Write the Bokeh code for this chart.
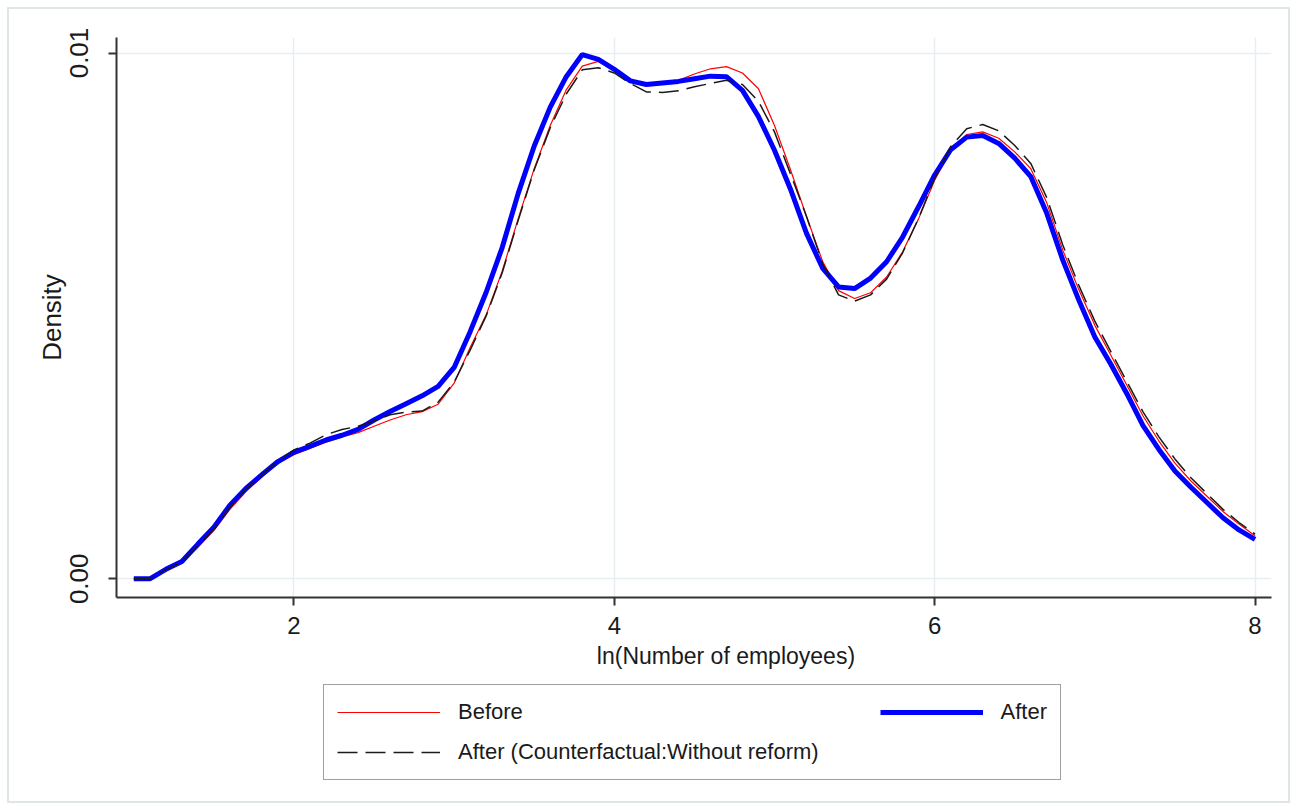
from bokeh.plotting import figure
from bokeh.layouts import column
from bokeh.models import (Range1d, FixedTicker, NumeralTickFormatter, Legend,
                          LegendItem)
from bokeh.embed import file_html
from bokeh.resources import INLINE

# Kernel density estimates of ln(employees), evaluated on a 0.1 grid.
log_employees = [round(1.0 + 0.1 * i, 1) for i in range(71)]

# densities in thousandths
before_milli = [
    0.00, 0.00, 0.15, 0.30, 0.60, 0.92, 1.32, 1.66, 1.94, 2.20,
    2.36, 2.48, 2.60, 2.70, 2.78, 2.90, 3.02, 3.12, 3.18, 3.32,
    3.72, 4.40, 5.02, 5.85, 6.85, 7.80, 8.62, 9.30, 9.75, 9.84,
    9.70, 9.48, 9.40, 9.43, 9.48, 9.60, 9.70, 9.74, 9.62, 9.32,
    8.62, 7.78, 6.89, 6.04, 5.48, 5.33, 5.44, 5.74, 6.22, 6.85,
    7.58, 8.15, 8.45, 8.50, 8.38, 8.12, 7.80, 7.15, 6.25, 5.50,
    4.82, 4.25, 3.68, 3.10, 2.62, 2.20, 1.86, 1.57, 1.28, 1.04,
    0.82,
]
after_milli = [
    0.00, 0.00, 0.18, 0.33, 0.66, 0.98, 1.40, 1.72, 1.98, 2.23,
    2.41, 2.52, 2.64, 2.73, 2.84, 3.02, 3.18, 3.33, 3.48, 3.66,
    4.02, 4.70, 5.45, 6.30, 7.33, 8.23, 8.97, 9.55, 9.97, 9.88,
    9.69, 9.47, 9.40, 9.43, 9.46, 9.51, 9.56, 9.55, 9.29, 8.79,
    8.15, 7.41, 6.57, 5.91, 5.55, 5.52, 5.72, 6.03, 6.50, 7.08,
    7.68, 8.16, 8.40, 8.43, 8.28, 8.00, 7.65, 6.95, 6.06, 5.30,
    4.60, 4.08, 3.52, 2.92, 2.46, 2.05, 1.74, 1.45, 1.16, 0.93,
    0.75,
]
counterfactual_milli = [
    0.00, 0.00, 0.17, 0.32, 0.63, 0.95, 1.37, 1.70, 1.98, 2.24,
    2.45, 2.58, 2.74, 2.84, 2.90, 3.00, 3.12, 3.17, 3.19, 3.36,
    3.74, 4.35, 5.00, 5.82, 6.82, 7.78, 8.58, 9.22, 9.68, 9.72,
    9.62, 9.42, 9.26, 9.25, 9.28, 9.36, 9.42, 9.48, 9.40, 9.08,
    8.50, 7.70, 6.89, 6.00, 5.40, 5.28, 5.40, 5.70, 6.20, 6.86,
    7.62, 8.22, 8.56, 8.64, 8.52, 8.24, 7.90, 7.25, 6.35, 5.58,
    4.90, 4.32, 3.75, 3.18, 2.70, 2.28, 1.92, 1.62, 1.32, 1.07,
    0.85,
]

x_ticks = [2, 4, 6, 8]
y_ticks = [0.0, 0.01]

series_labels = ["Before", "After", "After (Counterfactual:Without reform)"]

before = [v / 1000 for v in before_milli]
after = [v / 1000 for v in after_milli]
counterfactual = [v / 1000 for v in counterfactual_milli]

FONT = "Liberation Sans"
TEXT = "#1a1a1a"
NBSP = "\u00a0"

STYLE_BEFORE = dict(line_color="#ff0000", line_width=1.2)
STYLE_AFTER = dict(line_color="#0000ff", line_width=5)
STYLE_CF = dict(line_color="#1a1a1a", line_width=1.5, line_dash="20 8")

# ---- density plot ----
p = figure(
    frame_width=1155, frame_height=560,
    min_border_left=107, min_border_right=17,
    min_border_top=28, min_border_bottom=85,
    x_range=Range1d(0.892, 8.103), y_range=Range1d(-0.000356, 0.010295),
    output_backend="svg", toolbar_location=None,
    background_fill_color="white", border_fill_color="white",
)
p.outline_line_color = None

p.line(log_employees, before, **STYLE_BEFORE)
p.line(log_employees, after, **STYLE_AFTER)
p.line(log_employees, counterfactual, **STYLE_CF)

p.xaxis.ticker = FixedTicker(ticks=x_ticks)
p.yaxis.ticker = FixedTicker(ticks=y_ticks)
p.yaxis.formatter = NumeralTickFormatter(format="0.00")
p.yaxis.major_label_orientation = "vertical"
p.xaxis.axis_label = NBSP * 10 + "ln(Number of employees)"
p.yaxis.axis_label = "Density"

for ax in (p.xaxis, p.yaxis):
    ax.axis_line_color = "#333333"
    ax.axis_line_width = 2
    ax.major_tick_line_color = "#333333"
    ax.major_tick_line_width = 2
    ax.major_tick_in = 0
    ax.major_tick_out = 8
    ax.minor_tick_line_color = None
    ax.major_label_text_font = FONT
    ax.major_label_text_color = TEXT
    ax.axis_label_text_font = FONT
    ax.axis_label_text_color = TEXT
    ax.axis_label_text_font_style = "normal"

p.xaxis.major_label_text_font_size = "24px"
p.xaxis.axis_label_text_font_size = "23px"
p.xaxis.major_label_standoff = 11
p.xaxis.axis_label_standoff = 6
p.yaxis.major_label_text_font_size = "26px"
p.yaxis.axis_label_text_font_size = "26px"
p.yaxis.major_label_standoff = 20
p.yaxis.axis_label_standoff = 1

p.xgrid.grid_line_color = "#e6eef1"
p.ygrid.grid_line_color = "#e6eef1"
p.xgrid.grid_line_width = 1.5
p.ygrid.grid_line_width = 1.5

# ---- legend strip under the plot ----
# The key's ranges sit away from the data, so its lines only feed the legend swatches.
key = figure(
    width=1279, height=119, min_border=0,
    x_range=Range1d(20, 21), y_range=Range1d(20, 21),
    x_axis_type=None, y_axis_type=None,
    output_backend="svg", toolbar_location=None,
    background_fill_color="white", border_fill_color="white",
)
key.outline_line_color = None
key.xgrid.visible = False
key.ygrid.visible = False
k_before = key.line(log_employees, before, **STYLE_BEFORE)
k_after = key.line(log_employees, after, **STYLE_AFTER)
k_cf = key.line(log_employees, counterfactual, **STYLE_CF)

legend = Legend(
    items=[
        LegendItem(label=series_labels[0], renderers=[k_before]),
        LegendItem(label=series_labels[1], renderers=[k_after]),
        LegendItem(label=series_labels[2] + NBSP * 8, renderers=[k_cf]),
    ],
    orientation="horizontal", ncols=2, location=(207, 21),
    glyph_width=103, glyph_height=28, label_standoff=18,
    padding=13, spacing=12, margin=0,
    border_line_color="#404040", border_line_width=1.5,
    label_text_font=FONT, label_text_font_size="22px",
    label_text_color=TEXT, background_fill_color="white",
)
key.add_layout(legend, "center")

# light frame around the whole graph
page = column(p, key, spacing=0,
              styles={"margin": "7px 0 0 7px", "border": "2px solid #dfe6ea"})

open("out.html", "w").write(file_html(page, INLINE))
